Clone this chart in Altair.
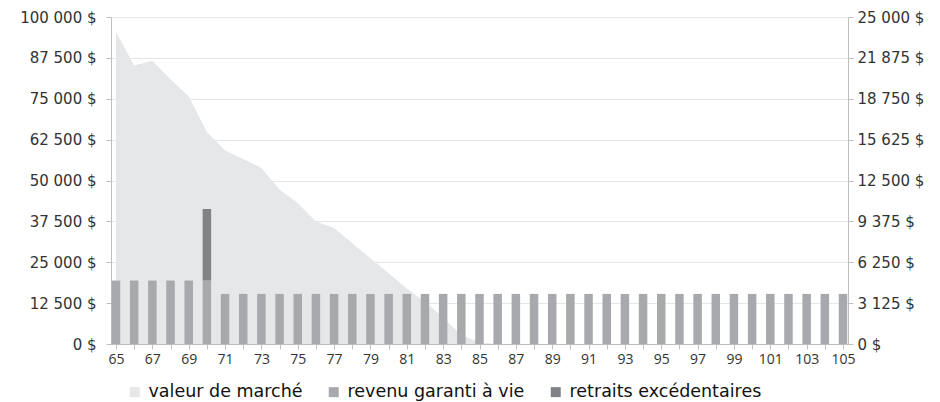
import altair as alt
import pandas as pd

ages = list(range(65, 106))
market_ages = list(range(65, 87))
market_value = [95400, 85200, 86600, 81000, 75800, 64800, 59200, 56600, 53800, 47200,
                43100, 37500, 35500, 30800, 26200, 21600, 17000, 12900, 8100, 2700, 450, 0]
guaranteed = [4850] * 6 + [3830] * 35
excess_age = [70]
excess_value = [5470]

labels = ["valeur de marché", "revenu garanti à vie", "retraits excédentaires"]
colors = ["#e6e7e8", "#a7a9ac", "#808285"]

area_df = pd.DataFrame({"age": market_ages, "value": market_value, "serie": labels[0]})
bar_df = pd.concat([
    pd.DataFrame({"age": ages, "value": guaranteed, "serie": labels[1], "ord": 0}),
    pd.DataFrame({"age": excess_age, "value": excess_value, "serie": labels[2], "ord": 1}),
])

FONT = "DejaVu Sans"
XFONT = "Open Sans"
TXT = "#333333"
AXC = "#bcbec0"

color = alt.Color("serie:N", scale=alt.Scale(domain=labels, range=colors),
                  legend=alt.Legend(title=None, orient="none", direction="horizontal",
                                    legendX=15, legendY=366, symbolType="square",
                                    symbolSize=100, symbolStrokeWidth=0,
                                    labelFontSize=17.5, labelFont=FONT, labelColor="#111",
                                    labelLimit=400, columnPadding=22, symbolOffset=0,
                                    labelOffset=5))

xaxis = alt.Axis(title=None, values=ages, grid=False, domainColor=AXC,
                 tickColor=AXC, tickSize=5, labelFontSize=14, labelFont=XFONT,
                 labelColor=TXT, labelPadding=3, labelOverlap=False,
                 labelExpr="datum.value % 2 == 1 ? datum.label : ''",
                 labelFlush=False)
xscale = alt.Scale(domain=[65, 105], nice=False, zero=False)

fmt = "replace(format(datum.value, ',d'), ',', ' ') + ' $'"

area = alt.Chart(area_df).mark_area(clip=True, opacity=1).encode(
    x=alt.X("age:Q", scale=xscale, axis=xaxis),
    y=alt.Y("value:Q", scale=alt.Scale(domain=[0, 100000], nice=False),
            axis=alt.Axis(title=None, values=[0, 12500, 25000, 37500, 50000, 62500, 75000, 87500, 100000],
                          labelExpr=fmt, grid=True, gridColor="#e6e6e6", domainColor=AXC,
                          tickColor=AXC, tickSize=5, labelFontSize=15, labelFont=FONT,
                          labelColor=TXT, labelPadding=10)),
    color=color,
)

bars = alt.Chart(bar_df).mark_bar(size=8.5, clip=True).encode(
    x=alt.X("age:Q", scale=xscale, axis=xaxis),
    y=alt.Y("value:Q", stack="zero", scale=alt.Scale(domain=[0, 25000], nice=False),
            axis=alt.Axis(title=None, orient="right",
                          values=[0, 3125, 6250, 9375, 12500, 15625, 18750, 21875, 25000],
                          labelExpr=fmt, grid=False, domainColor=AXC, tickColor=AXC,
                          tickSize=5, labelFontSize=15, labelFont=FONT, labelColor=TXT,
                          labelPadding=4)),
    color=color,
    order=alt.Order("ord:Q"),
)

chart = alt.layer(area, bars).resolve_scale(y="independent").properties(
    width=737, height=327,
    autosize=alt.AutoSizeParams(type="none"),
    padding={"left": 103, "top": 9, "right": 84, "bottom": 58},
).configure_view(stroke=None).configure(background="white")

chart.save("out.html", embed_options={"renderer": "svg", "actions": False})
